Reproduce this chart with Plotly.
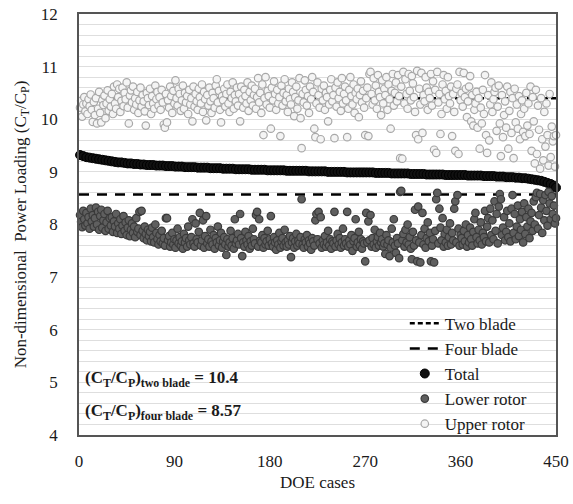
import plotly.graph_objects as go

# ---------------- data ----------------
cases = list(range(1, 451))

upper_rotor = [
    10.22,10.35,10.05,10.28,10.42,10.15,10.30,10.10,10.38,10.25,10.47,10.18,9.95,10.33,10.08,
    10.40,9.92,10.20,10.52,10.12,9.94,10.36,10.27,10.45,10.02,10.30,10.55,10.16,10.38,10.24,
    10.48,10.10,10.62,10.30,10.20,10.66,10.42,10.58,10.14,10.35,10.60,10.25,10.50,10.38,10.70,
    10.22,9.92,10.45,10.55,10.32,10.62,10.18,10.40,10.28,10.52,10.12,10.36,10.60,10.24,10.46,
    10.34,10.15,9.88,10.50,10.40,10.27,10.58,10.10,10.44,10.30,10.20,10.64,10.38,10.52,10.26,
    10.42,10.18,10.56,10.32,9.90,9.84,10.48,9.94,10.36,10.22,10.62,10.44,10.12,10.54,10.30,
    10.74,10.40,10.26,10.58,10.48,10.16,10.36,10.64,10.20,10.50,10.32,10.44,10.10,10.56,10.28,
    10.40,9.96,10.62,10.24,10.48,10.34,10.18,10.58,10.42,10.30,10.66,10.14,10.52,10.38,9.98,
    10.46,10.26,10.60,10.34,10.12,10.50,10.40,10.22,10.64,10.76,10.32,10.54,10.18,9.94,10.44,
    10.36,10.58,10.24,10.48,10.66,10.30,10.14,10.52,10.40,10.70,10.20,10.46,10.34,10.60,10.26,
    10.48,9.96,10.62,10.38,10.22,10.56,10.44,10.30,10.70,10.16,10.52,10.36,10.64,10.26,10.46,
    10.58,10.20,10.42,10.78,10.32,10.50,10.12,10.66,9.70,10.40,10.80,10.28,10.54,10.44,10.22,
    9.82,10.60,10.36,10.72,10.48,10.18,10.56,10.30,10.42,9.68,10.64,10.26,10.50,10.76,10.34,
    10.46,10.14,10.58,10.38,10.28,10.70,10.52,10.06,10.42,10.62,10.20,10.36,10.78,10.02,9.45,
    10.48,10.32,10.74,10.56,10.26,10.44,10.12,10.62,10.38,10.80,10.52,9.82,9.66,10.30,10.70,
    10.46,10.22,9.62,10.58,10.36,10.64,10.18,10.50,10.42,9.96,10.28,10.56,10.76,10.34,10.46,
    9.64,10.60,10.24,10.70,10.40,10.52,10.16,10.78,10.30,10.48,10.62,10.36,9.66,10.20,10.56,
    10.80,10.44,10.28,10.66,10.12,10.50,10.38,10.58,10.04,10.46,10.72,10.32,10.54,10.22,9.70,
    10.40,10.60,9.68,10.86,10.90,10.48,10.28,10.78,10.36,10.64,10.20,10.84,10.52,10.42,10.08,
    10.74,10.30,10.58,10.46,10.80,10.18,10.66,10.38,9.82,10.54,10.86,10.26,10.50,10.70,10.34,
    10.84,10.44,9.26,10.62,9.25,10.90,10.30,10.76,10.48,10.20,10.86,10.54,10.36,10.82,10.68,
    10.42,10.14,9.70,10.92,9.62,10.58,10.28,10.88,9.74,10.46,10.34,10.80,10.60,10.18,10.52,
    10.40,10.86,10.26,10.72,9.42,10.56,9.36,10.90,10.32,10.48,9.72,10.10,10.66,10.84,10.38,
    10.54,10.20,10.80,10.44,10.30,10.62,9.68,10.48,10.14,9.40,10.58,10.66,9.34,10.90,10.36,
    10.50,10.24,10.88,10.42,10.58,10.04,10.34,10.62,10.82,9.96,10.46,9.88,10.18,10.30,10.52,
    9.84,10.40,9.44,10.22,9.92,10.56,10.10,10.84,9.70,9.36,10.46,9.60,10.28,10.70,10.14,
    10.38,10.52,10.60,9.78,10.24,10.64,9.92,9.30,10.46,9.66,10.08,10.34,9.84,10.62,9.44,
    10.16,10.52,9.74,10.40,9.26,10.58,9.94,10.28,9.82,10.44,9.62,10.10,10.36,9.76,10.20,
    9.68,10.50,9.88,10.30,9.72,10.62,9.40,10.42,9.96,9.16,10.56,9.34,10.26,9.80,9.06,
    10.40,9.62,9.22,10.14,9.48,10.30,9.70,9.12,10.48,9.28,9.86,9.58,9.68,9.10,9.70,
]

lower_rotor = [
    8.18,8.05,7.95,8.26,8.10,7.98,8.22,8.02,8.14,7.92,8.30,8.06,8.18,7.96,8.12,
    8.32,8.00,8.24,7.90,8.16,8.28,7.94,8.08,8.20,7.88,8.04,8.26,7.92,8.12,7.98,
    8.14,7.86,8.06,7.96,8.20,7.84,8.02,7.92,8.10,7.82,7.98,8.16,7.88,8.04,7.80,
    7.94,8.08,7.78,7.90,8.02,7.84,7.96,7.76,8.12,7.86,7.92,8.24,7.80,8.26,7.88,
    7.74,7.96,7.82,7.70,7.90,7.78,7.86,7.68,7.94,7.76,7.66,8.00,7.84,7.72,7.62,
    7.80,7.68,7.88,7.64,7.74,7.60,8.12,8.12,7.70,7.78,7.58,7.66,7.84,7.62,7.72,
    7.56,7.70,7.92,7.64,7.76,7.60,7.68,7.54,7.82,7.66,7.74,7.58,7.96,7.70,7.62,
    7.76,8.10,7.64,7.58,8.02,7.72,7.66,7.86,8.22,7.60,7.70,8.08,7.56,7.78,8.16,
    7.64,7.72,7.58,7.90,7.68,7.62,7.80,7.54,7.74,7.66,7.96,7.60,7.70,7.84,7.56,
    7.68,7.76,7.62,7.42,7.72,7.58,7.66,7.88,7.60,7.74,7.54,8.10,7.64,7.70,7.82,
    7.62,8.20,7.74,7.40,7.66,7.58,7.86,7.70,7.62,7.78,7.54,7.68,7.60,7.92,7.72,
    7.64,8.18,8.24,7.58,8.10,7.70,7.66,7.80,7.56,7.74,7.62,7.68,7.88,7.60,7.72,
    8.16,7.64,7.58,7.76,7.66,7.52,7.70,7.62,7.84,7.56,7.68,7.74,7.60,7.90,7.66,
    7.58,7.70,7.62,7.78,7.38,7.66,7.74,7.56,7.68,7.82,7.60,7.70,7.64,7.76,8.48,
    7.62,7.56,7.72,7.66,7.80,7.58,7.70,7.64,7.52,7.74,7.68,7.60,8.08,8.20,7.72,
    8.24,7.64,8.14,7.56,7.70,7.62,7.78,7.58,7.66,7.88,7.60,7.72,7.54,7.68,7.64,
    8.24,7.58,7.70,7.82,7.62,7.74,7.56,7.66,7.92,7.60,7.72,7.64,8.24,7.58,7.70,
    7.62,7.80,7.50,7.68,7.74,8.10,7.58,7.66,7.86,7.60,7.72,7.54,7.68,7.64,7.30,
    8.22,7.66,8.06,7.70,8.18,7.58,7.74,7.62,7.90,7.56,7.68,7.76,7.60,7.84,7.66,
    7.72,7.58,7.64,7.44,7.80,7.62,7.70,7.40,7.56,7.92,7.66,8.10,7.60,7.46,7.74,
    7.64,7.36,8.62,8.64,7.70,7.82,7.58,7.90,7.66,8.00,7.62,7.76,7.54,7.34,7.86,
    7.60,8.28,7.70,7.30,8.34,7.66,7.28,7.80,8.22,7.62,7.92,7.56,7.74,8.04,7.68,
    7.84,7.30,7.60,7.72,7.28,7.88,8.48,8.60,7.64,8.30,7.94,7.70,8.12,7.58,7.82,
    7.66,7.90,7.60,7.76,8.02,7.62,7.84,7.70,8.30,8.44,7.66,8.56,7.92,7.60,7.80,
    7.74,7.62,7.88,7.68,8.00,7.58,7.80,7.66,7.94,7.72,7.60,7.86,8.10,8.22,7.76,
    7.64,7.90,7.70,8.04,7.62,7.84,7.76,8.26,7.68,7.96,8.12,7.66,8.30,7.80,8.08,
    7.72,8.44,7.88,8.20,7.64,8.34,8.58,8.48,7.80,7.94,8.14,7.70,7.86,8.26,7.76,
    8.02,7.68,8.30,8.56,7.84,8.20,7.72,7.96,8.36,7.78,8.10,7.90,8.24,7.66,8.40,
    7.82,8.14,7.96,8.30,7.74,8.06,8.22,7.88,8.44,8.00,8.52,8.60,7.92,8.18,8.58,
    8.32,7.84,8.46,8.08,8.56,8.26,7.98,8.62,8.40,8.10,8.54,8.20,8.36,8.02,8.12,
]

total_cases = list(range(1, 449, 3)) + [450]
total = [
    9.32,9.30,9.28,9.27,9.26,9.25,9.24,9.23,9.22,9.21,9.20,9.19,9.18,9.18,9.17,
    9.16,9.16,9.15,9.15,9.14,9.14,9.13,9.13,9.13,9.12,9.12,9.12,9.11,9.11,9.11,
    9.10,9.10,9.10,9.09,9.09,9.09,9.09,9.08,9.08,9.08,9.08,9.07,9.07,9.07,9.07,
    9.06,9.06,9.06,9.06,9.05,9.05,9.05,9.05,9.05,9.04,9.04,9.04,9.04,9.04,9.03,
    9.03,9.03,9.03,9.03,9.03,9.02,9.02,9.02,9.02,9.02,9.02,9.02,9.01,9.01,9.01,
    9.01,9.01,9.01,9.00,9.00,9.00,9.00,9.00,9.00,8.99,8.99,8.99,8.99,8.99,8.99,
    8.99,8.99,8.99,8.98,8.98,8.98,8.98,8.98,8.97,8.97,8.97,8.97,8.97,8.97,8.96,
    8.96,8.96,8.96,8.96,8.95,8.95,8.95,8.95,8.95,8.95,8.94,8.94,8.94,8.94,8.94,
    8.94,8.94,8.93,8.93,8.93,8.93,8.93,8.92,8.92,8.92,8.92,8.91,8.91,8.91,8.90,
    8.90,8.90,8.89,8.89,8.88,8.88,8.87,8.86,8.85,8.84,8.83,8.81,8.79,8.77,8.74,
    8.70,
]

two_blade = 10.4
four_blade = 8.57
x_span = [0, 450]

x_ticks = [0, 90, 180, 270, 360, 450]
y_ticks = [4, 5, 6, 7, 8, 9, 10, 11, 12]

FONT = "Liberation Serif"

fig = go.Figure()

fig.add_trace(go.Scatter(
    x=x_span, y=[two_blade, two_blade], mode="lines", name="Two blade",
    line=dict(color="black", width=2.5, dash="5px,3px"),
))
fig.add_trace(go.Scatter(
    x=x_span, y=[four_blade, four_blade], mode="lines", name="Four blade",
    line=dict(color="black", width=2.5, dash="10px,8px"),
))
fig.add_trace(go.Scatter(
    x=total_cases, y=total, mode="markers", name="Total", cliponaxis=False,
    marker=dict(size=9, color="#111111", line=dict(color="#000000", width=1)),
))
fig.add_trace(go.Scatter(
    x=cases, y=lower_rotor, mode="markers", name="Lower rotor", cliponaxis=False,
    marker=dict(size=7.5, color="#5f5f5f", line=dict(color="#3a3a3a", width=1.2)),
))
fig.add_trace(go.Scatter(
    x=cases, y=upper_rotor, mode="markers", name="Upper rotor", cliponaxis=False,
    marker=dict(size=7.5, color="#f4f4f4", line=dict(color="#a8a8a8", width=1.2)),
))

fig.update_layout(
    width=573, height=504,
    margin=dict(l=79, r=17, t=14, b=69, autoexpand=False),
    paper_bgcolor="white", plot_bgcolor="white",
    font=dict(family=FONT, size=17, color="#1a1a1a"),
    showlegend=True,
    legend=dict(
        x=0.683, y=0.307, xanchor="left", yanchor="top",
        bgcolor="rgba(0,0,0,0)", font=dict(size=17, family=FONT),
        tracegroupgap=0,
    ),
    xaxis=dict(
        range=[0, 450], tickvals=x_ticks, showgrid=False, zeroline=False,
        showline=True, linecolor="#555555", linewidth=1.5, mirror=True,
        ticks="", ticklabelstandoff=10, automargin=False, ticklabeloverflow="allow",
        tickfont=dict(size=17, family=FONT),
        title=dict(text="DOE cases", standoff=6, font=dict(size=17, family=FONT)),
    ),
    yaxis=dict(
        range=[4, 12], tickvals=y_ticks, zeroline=False,
        showgrid=True, gridcolor="#dedede", gridwidth=1,
        minor=dict(dtick=0.2, showgrid=True, gridcolor="#dedede", gridwidth=1),
        showline=True, linecolor="#555555", linewidth=1.5, mirror=True,
        ticks="", ticklabelstandoff=16, automargin=False, ticklabeloverflow="allow",
        tickfont=dict(size=17, family=FONT),
        title=dict(text="Non-dimensional  Power Loading (C<sub>T</sub>/C<sub>P</sub>)",
                   standoff=10, font=dict(size=17, family=FONT)),
    ),
    annotations=[
        dict(text="<b>(C<sub>T</sub>/C<sub>P</sub>)<sub>two blade</sub> = 10.4</b>",
             xref="paper", yref="paper", x=0.009, y=0.133,
             xanchor="left", yanchor="middle", showarrow=False,
             font=dict(size=17, family=FONT, color="#1a1a1a")),
        dict(text="<b>(C<sub>T</sub>/C<sub>P</sub>)<sub>four blade</sub> = 8.57</b>",
             xref="paper", yref="paper", x=0.009, y=0.055,
             xanchor="left", yanchor="middle", showarrow=False,
             font=dict(size=17, family=FONT, color="#1a1a1a")),
    ],
)

fig.write_html(
    "out.html",
    config={"displayModeBar": False},
    post_script="document.body.style.margin='0px';document.body.style.overflow='hidden';",
)
